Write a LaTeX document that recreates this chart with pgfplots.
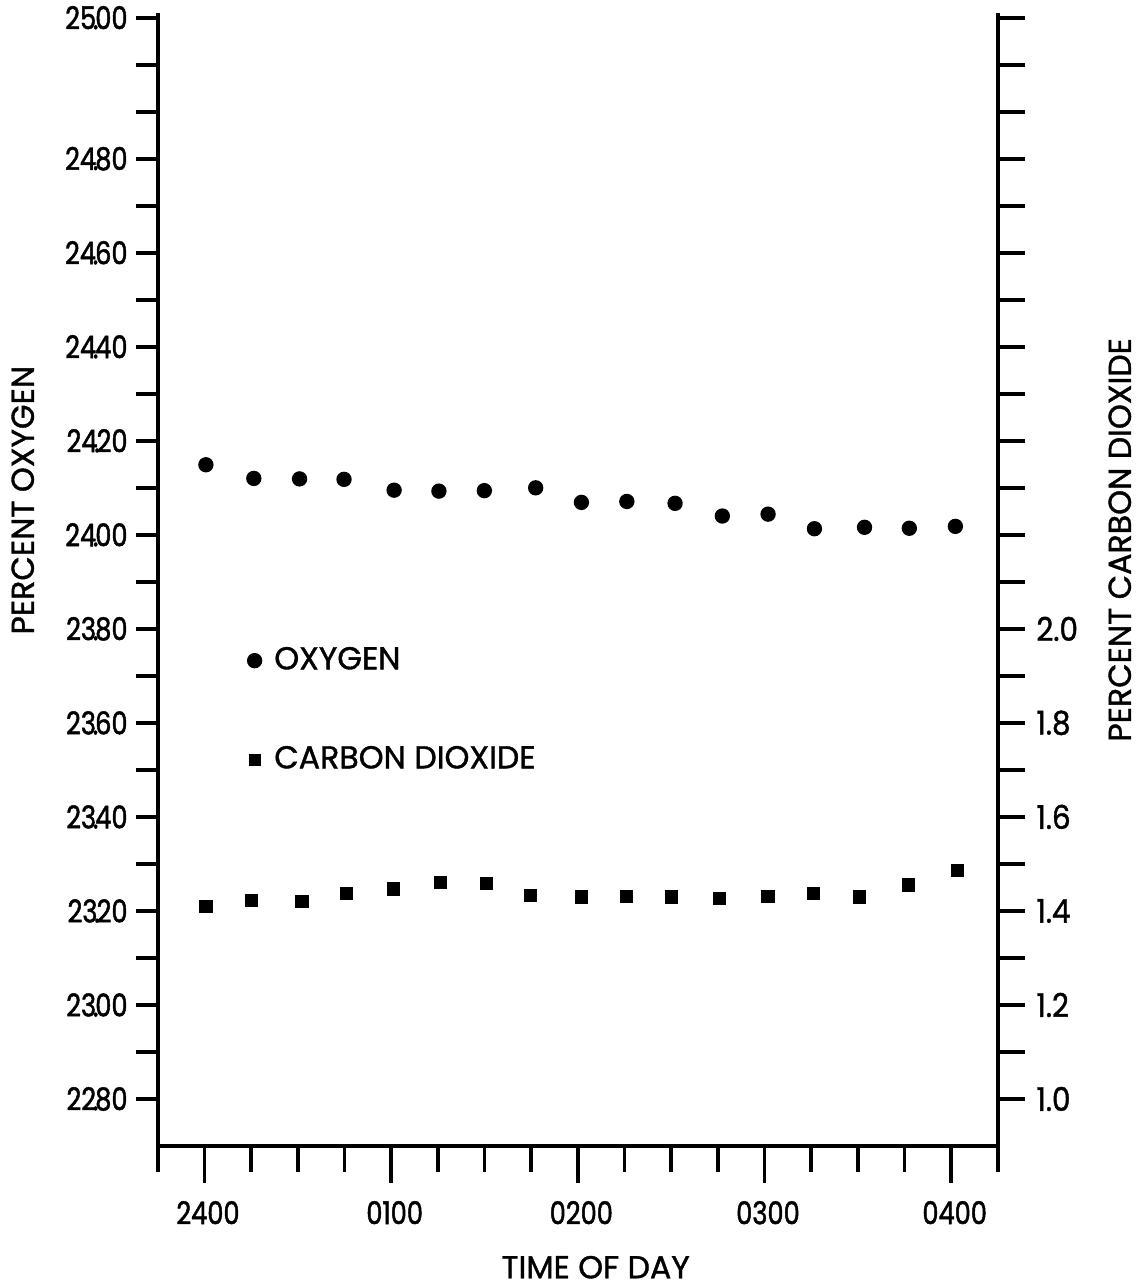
\documentclass[border=0pt]{standalone}
\usepackage{fontspec}
\setmainfont{Poppins}
\newfontfamily\labfont{Poppins}[FakeBold=1.2]
\newfontfamily\tickfont{Poppins}[FakeStretch=0.82, FakeBold=1.5]
\newfontfamily\rtickfont{Poppins}[FakeStretch=0.9, FakeBold=1.2]
\usepackage{pgfplots}
\usepackage{pgfplotstable}
\pgfplotsset{compat=1.18}

% decimal point set tight, as in the scanned labels
\newcommand\dpt[2]{#1\kern-.1em.\kern-.1em#2}

% time in minutes after 2400, percent oxygen
\pgfplotstableread{
t    o2
0.4  24.149
15.8 24.120
30.5 24.119
44.8 24.118
60.9 24.095
75.3 24.093
89.9 24.094
106.4 24.100
121.1 24.069
135.7 24.071
151.2 24.067
166.4 24.040
181.1 24.044
196.0 24.013
212.1 24.016
226.5 24.014
241.3 24.018
}\oxygen

% time in minutes after 2400, percent carbon dioxide
\pgfplotstableread{
t    co2
0.4  1.410
15.0 1.422
31.3 1.420
45.6 1.437
60.8 1.447
75.8 1.461
90.5 1.459
104.8 1.433
121.2 1.430
135.5 1.431
150.0 1.430
165.4 1.427
181.1 1.431
195.7 1.437
210.4 1.430
226.2 1.455
242.0 1.486
}\carbon

\pgfplotsset{
  chartbase/.style={
    scale only axis, width=252pt, height=339.9pt,
    xmin=-15, xmax=255,
    axis line style={-, line width=1.2pt},
    every tick/.style={black, line width=1.1pt},
    tick align=outside,
    clip=false,
  },
}

\begin{document}
\begin{tikzpicture}
\useasboundingbox (-47.4pt,-42.3pt) rectangle (294.6pt,343.8pt);

% bottom axis, oxygen points and legend
\begin{axis}[
  chartbase,
  ymin=22.70, ymax=25.11,
  axis x line*=bottom, axis y line=none,
  xtick={0,60,120,180,240},
  xticklabels={2400,0100,0200,0300,0400},
  minor xtick={-15,15,30,45,75,90,105,135,150,165,195,210,225,255},
  major tick length=11pt, minor tick length=7.8pt,
  xticklabel style={font=\tickfont\fontsize{9.4}{10}\selectfont, yshift=-2pt, xshift=1pt},
  xlabel={TIME OF DAY},
  xlabel style={font=\labfont\fontsize{9.5}{10}\selectfont, at={(axis description cs:0.521,-0.107)}, anchor=center},
  legend style={draw=none, fill=none, at={(axis cs:13.6,23.777)}, anchor=north west,
    font=\labfont\fontsize{9.5}{10}\selectfont, row sep=17.5pt, inner sep=0pt,
    cells={anchor=west}},
  legend image code/.code={\draw plot coordinates {(0.15cm,0cm)};\path[draw=none] (0.15cm,0cm) -- ++(3.9pt,0pt);},
]
\addplot[only marks, mark=*, mark size=2.1pt, black] table[x=t, y=o2] {\oxygen};
\addlegendentry{OXYGEN}
\addlegendimage{only marks, mark=square*, mark size=1.6pt, black}
\addlegendentry{CARBON DIOXIDE}
\end{axis}

% left axis, percent oxygen
\begin{axis}[
  chartbase,
  ymin=22.70, ymax=25.11,
  axis y line*=left, axis x line=none,
  ytick={22.8,23.0,23.2,23.4,23.6,23.8,24.0,24.2,24.4,24.6,24.8,25.1},
  yticklabels={\dpt{22}{80},\dpt{23}{00},\dpt{23}{20},\dpt{23}{40},\dpt{23}{60},\dpt{23}{80},
    \dpt{24}{00},\dpt{24}{20},\dpt{24}{40},\dpt{24}{60},\dpt{24}{80},\dpt{25}{00}},
  minor ytick={22.9,23.1,23.3,23.5,23.7,23.9,24.1,24.3,24.5,24.7,24.9,25.0},
  major tick length=6.6pt, minor tick length=6.6pt,
  yticklabel style={font=\tickfont\fontsize{9.4}{10}\selectfont, xshift=1pt},
  ylabel={PERCENT OXYGEN},
  ylabel style={font=\labfont\fontsize{9.5}{10}\selectfont, at={(axis description cs:-0.161,0.570)}, anchor=center},
]
\end{axis}

% right axis, percent carbon dioxide
\begin{axis}[
  chartbase,
  ymin=0.90, ymax=3.31,
  axis y line*=right, axis x line=none,
  ytick={1.0,1.2,1.4,1.6,1.8,2.0},
  yticklabels={1.0,1.2,1.4,1.6,1.8,2.0},
  minor ytick={1.1,1.3,1.5,1.7,1.9,2.1,2.2,2.3,2.4,2.5,2.6,2.7,2.8,2.9,3.0,3.1,3.2,3.3},
  major tick length=8pt, minor tick length=8pt,
  yticklabel style={font=\rtickfont\fontsize{9.8}{10}\selectfont},
  ylabel={PERCENT CARBON DIOXIDE},
  ylabel style={font=\labfont\fontsize{9.5}{10}\selectfont, at={(axis description cs:1.145,0.535)}, anchor=center},
]
\addplot[only marks, mark=square*, mark size=1.8pt, black] table[x=t, y=co2] {\carbon};
\end{axis}
\end{tikzpicture}
\end{document}
